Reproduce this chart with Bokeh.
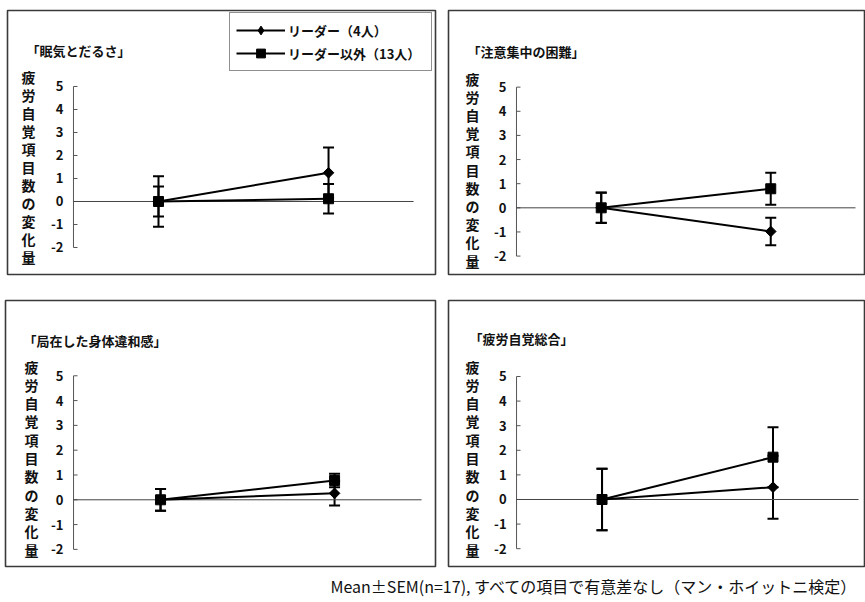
import numpy as np
from bokeh.plotting import figure
from bokeh.models import ColumnDataSource, Range1d, Whisker, TeeHead, Legend, LegendItem
from bokeh.layouts import row, column
from bokeh.core.properties import value
from bokeh.embed import file_html
from bokeh.resources import INLINE

FONT = "Noto Sans CJK JP"

# ---- data -------------------------------------------------------------
timepoints = [1, 2]
series_labels = ["リーダー（4人）", "リーダー以外（13人）"]
y_ticks = [-2, -1, 0, 1, 2, 3, 4, 5]
y_tick_labels = ["-2", "-1", "0", "1", "2", "3", "4", "5"]
y_axis_title = "疲労自覚項目数の変化量"
panel_titles = ["「眠気とだるさ」", "「注意集中の困難」", "「局在した身体違和感」", "「疲労自覚総合」"]
footnote = "Mean±SEM(n=17), すべての項目で有意差なし（マン・ホイットニ検定）"

# 眠気とだるさ
sleepy_leader_mean = [0.0, 1.25]
sleepy_leader_sem = [1.10, 1.10]
sleepy_other_mean = [0.0, 0.12]
sleepy_other_sem = [0.65, 0.64]

# 注意集中の困難
focus_leader_mean = [0.0, -0.98]
focus_leader_sem = [0.62, 0.57]
focus_other_mean = [0.0, 0.79]
focus_other_sem = [0.63, 0.66]

# 局在した身体違和感
body_leader_mean = [0.0, 0.26]
body_leader_sem = [0.44, 0.49]
body_other_mean = [0.0, 0.78]
body_other_sem = [0.44, 0.27]

# 疲労自覚総合
total_leader_mean = [0.0, 0.50]
total_leader_sem = [1.25, 1.28]
total_other_mean = [0.0, 1.72]
total_other_sem = [1.25, 1.22]

# ---- layout of the four boxed panels ----------------------------------
# w/h: canvas size, b: min borders (left, right, top, bottom),
# xr/yr: visible data ranges of the boxed frame,
# title_off / ylab_off: pixel offsets from the frame's top-left corner
GEOM = [
    dict(w=442, h=287, b=(7, 7, 10, 13), xr=(0.112, 2.629), yr=(-3.174, 8.304),
         title_off=(19, 40), ylab_off=(21, 66), ylab_step=18.0),
    dict(w=423, h=287, b=(6, 0, 7, 12), xr=(0.099, 2.559), yr=(-2.763, 8.176),
         title_off=(19, 41), ylab_off=(24, 68), ylab_step=18.2),
    dict(w=442, h=283, b=(5, 7, 13, 4), xr=(0.109, 2.580), yr=(-2.690, 8.036),
         title_off=(18, 40), ylab_off=(26, 66), ylab_step=18.3),
    dict(w=423, h=283, b=(6, 0, 13, 4), xr=(0.102, 2.541), yr=(-2.724, 8.089),
         title_off=(21, 38), ylab_off=(24, 66), ylab_step=18.3),
]


def err_source(mean, sem):
    return ColumnDataSource(dict(
        x=timepoints, y=mean,
        upper=[m + s for m, s in zip(mean, sem)],
        lower=[m - s for m, s in zip(mean, sem)],
    ))


def add_errorbars(p, src):
    head = dict(size=11, line_width=2, line_color="black")
    p.add_layout(Whisker(source=src, base="x", upper="upper", lower="lower",
                         dimension="height", line_width=2, line_color="black",
                         upper_head=TeeHead(**head), lower_head=TeeHead(**head)))


def make_panel(title, lm, ls, om, os_, g, with_legend=False):
    bl, br, bt, bb = g["b"]
    p = figure(width=g["w"], height=g["h"], title=None,
               x_range=Range1d(*g["xr"]), y_range=Range1d(*g["yr"]),
               x_axis_location=None, y_axis_location=None,
               toolbar_location=None, output_backend="svg",
               min_border_left=bl, min_border_right=br,
               min_border_top=bt, min_border_bottom=bb)
    p.grid.visible = False
    p.outline_line_color = "#3a3a3a"
    p.outline_line_width = 1.6
    p.background_fill_color = "white"
    p.border_fill_color = "white"

    x0 = timepoints[0] - 0.5
    x1 = timepoints[-1] + 0.5
    xs, ys = g["xr"][0], g["yr"][1]

    # vertical value axis drawn inside the box
    p.line([x0, x0], [y_ticks[0], y_ticks[-1]], line_color="#555555", line_width=1)
    p.ray(x=[x0] * len(y_ticks), y=y_ticks, length=4, length_units="screen",
          angle=0, line_color="#555555", line_width=1)
    p.text(x=[x0] * len(y_ticks), y=y_ticks, text=y_tick_labels, x_offset=-10,
           text_align="right", text_baseline="middle", text_font=value(FONT),
           text_font_style="bold", text_font_size="13px", text_color="#111111")
    # zero line
    p.line([x0, x1], [0, 0], line_color="#444444", line_width=1)

    # panel title and stacked vertical axis title
    p.text(x=[xs], y=[ys], text=[title], x_offset=g["title_off"][0],
           y_offset=g["title_off"][1], text_align="left", text_baseline="middle",
           text_font=value(FONT), text_font_style="bold", text_font_size="13px",
           text_color="#111111")
    chars = list(y_axis_title)
    lab_src = ColumnDataSource(dict(
        x=[xs] * len(chars), y=[ys] * len(chars), t=chars,
        yo=[g["ylab_off"][1] + g["ylab_step"] * i for i in range(len(chars))],
    ))
    p.text(x="x", y="y", text="t", source=lab_src, x_offset=g["ylab_off"][0],
           y_offset="yo", text_align="center", text_baseline="middle",
           text_font=value(FONT), text_font_style="bold", text_font_size="14px",
           text_color="#111111")

    # series
    src_l = err_source(lm, ls)
    src_o = err_source(om, os_)
    add_errorbars(p, src_o)
    add_errorbars(p, src_l)
    line_o = p.line("x", "y", source=src_o, line_color="black", line_width=2)
    line_l = p.line("x", "y", source=src_l, line_color="black", line_width=2)
    mark_o = p.scatter("x", "y", source=src_o, marker="square", size=10,
                       fill_color="black", line_color="black")
    # diamond core (also serves as the legend key, since legend glyphs are not
    # rotated) covered by a rotated square for an even diamond shape
    key_l = p.scatter("x", "y", source=src_l, marker="diamond", size=10,
                      fill_color="black", line_color="black")
    p.scatter("x", "y", source=src_l, marker="square", angle=np.pi / 4,
              size=7.5, fill_color="black", line_color="black")

    if with_legend:
        legend = Legend(items=[
            LegendItem(label=series_labels[0], renderers=[line_l, key_l]),
            LegendItem(label=series_labels[1], renderers=[line_o, mark_o]),
        ], location=(222, 203), margin=0, padding=6, spacing=1,
            glyph_width=49, glyph_height=22, label_height=22, label_width=137,
            label_standoff=3, label_text_font=FONT, label_text_font_style="bold",
            label_text_font_size="13px", label_text_color="#111111",
            border_line_color="#222222", border_line_width=1.5,
            background_fill_color="white", background_fill_alpha=1.0)
        p.add_layout(legend)
    return p


p1 = make_panel(panel_titles[0], sleepy_leader_mean, sleepy_leader_sem,
                sleepy_other_mean, sleepy_other_sem, GEOM[0], with_legend=True)
p2 = make_panel(panel_titles[1], focus_leader_mean, focus_leader_sem,
                focus_other_mean, focus_other_sem, GEOM[1])
p3 = make_panel(panel_titles[2], body_leader_mean, body_leader_sem,
                body_other_mean, body_other_sem, GEOM[2])
p4 = make_panel(panel_titles[3], total_leader_mean, total_leader_sem,
                total_other_mean, total_other_sem, GEOM[3])

# footnote strip
foot = figure(width=865, height=32, title=None, x_range=Range1d(0, 865),
              y_range=Range1d(0, 32), x_axis_location=None, y_axis_location=None,
              toolbar_location=None, output_backend="svg",
              min_border_left=0, min_border_right=0, min_border_top=0, min_border_bottom=0)
foot.grid.visible = False
foot.outline_line_color = None
foot.text(x=[330], y=[17], text=[footnote], text_align="left", text_baseline="middle",
          text_font=value(FONT), text_font_size="16px", text_color="#111111")

layout = column(row(p1, p2), row(p3, p4), foot)

with open("out.html", "w") as f:
    f.write(file_html(layout, INLINE))
